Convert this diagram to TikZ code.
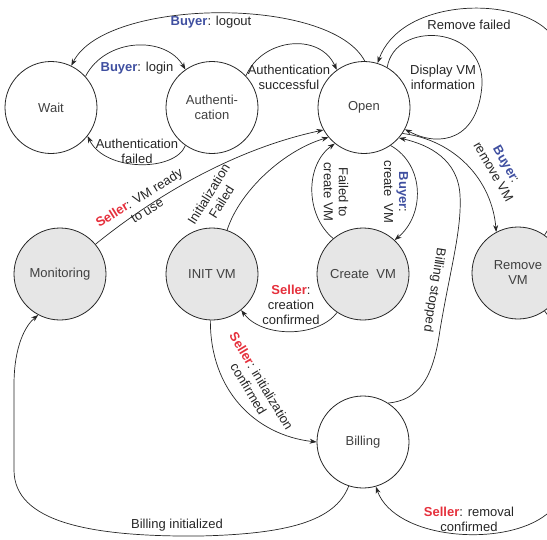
\documentclass[tikz,border=0pt]{standalone}
\usepackage{fontspec}
\setmainfont{Liberation Sans}
\usetikzlibrary{arrows.meta}
\definecolor{buyercol}{HTML}{3F4FA0}
\definecolor{sellercol}{HTML}{E5303C}
\definecolor{stfill}{HTML}{E6E6E6}
\newcommand{\BuyerTag}{\textcolor{buyercol}{\textbf{Buyer}}}
\newcommand{\SellerTag}{\textcolor{sellercol}{\textbf{Seller}}}
\begin{document}
\begin{tikzpicture}[x=1pt,y=-1pt,
  state/.style={circle, draw=black!85, line width=0.8pt, minimum size=92pt, inner sep=0pt, align=center,
    font=\fontsize{13}{15}\selectfont, text=black!75},
  active/.style={state, fill=stfill},
  lbl/.style={font=\fontsize{13}{15}\selectfont, align=center, text=black!85, inner sep=0pt},
  tr/.style={draw=black!85, line width=0.7pt, -{Stealth[length=7pt,width=5pt]}},
]
\useasboundingbox (0,0) rectangle (547,539);
\clip (0,0) rectangle (547,539);

% states
\node[state]  (wait) at (51,107.5)  {Wait};
\node[state]  (auth) at (212,107.5) {Authenti-\\cation};
\node[state]  (open) at (364,107.5) {Open};
\node[active] (mon)  at (60,274)    {Monitoring};
\node[active] (init) at (212,274)   {INIT VM};
\node[active] (create) at (363,274) {Create\ \ VM};
\node[active] (remove) at (518,273) {Remove\\VM};
\node[state]  (bill) at (363,442)   {Billing};

% transitions
\draw[tr] (open.89) .. controls (330,-5) and (105,-2) .. (wait.64);
\draw[tr] (wait.42) .. controls (105,38) and (165,35) .. (auth.125);
\draw[tr] (auth.-125) .. controls (175,172) and (105,172) .. (wait.-38);
\draw[tr] (auth.43) .. controls (262,38) and (320,32) .. (open.126);
\draw[tr] (remove.55) .. controls (575,190) and (585,70) .. (547,30)
          .. controls (510,-5) and (400,0) .. (open.73);
\draw[tr] (open.60) .. controls (395,20) and (485,25) .. (482,85)
          .. controls (478,140) and (440,148) .. (open.-28);
\draw[tr] (mon.40) .. controls (150,200) and (230,150) .. (open.209);
\draw[tr] (init.71) .. controls (240,190) and (285,150) .. (open.220);
\draw[tr] (create.130) .. controls (305,215) and (305,165) .. (open.231);
\draw[tr] (open.-55) .. controls (425,165) and (425,215) .. (create.47);
\draw[tr] (open.-34) .. controls (455,140) and (492,180) .. (remove.118);
\draw[tr] (bill.57) .. controls (418,400) and (433,380) .. (440,330)
          .. controls (450,270) and (462,230) .. (460,195)
          .. controls (458,160) and (430,145) .. (open.-41);
\draw[tr] (create.236) .. controls (318,338) and (262,338) .. (init.-51);
\draw[tr] (init.-92) .. controls (210,390) and (255,435) .. (bill.180);
\draw[tr] (bill.-108) .. controls (335,522) and (285,534) .. (200,536)
          .. controls (90,537) and (14,522) .. (14,470)
          -- (14,385) .. controls (14,345) and (26,325) .. (mon.-118);
\draw[tr] (remove.-55) .. controls (590,370) and (590,480) .. (547,514)
          .. controls (505,548) and (395,540) .. (bill.-74);

% labels
\node[lbl] (l-logout) at (211,22) {\BuyerTag: logout};
\node[lbl] (l-login) at (137,68) {\BuyerTag: login};
\node[lbl] (l-afail) at (137,151) {Authentication\\failed};
\node[lbl] (l-asucc) at (289,77) {Authentication\\successful};
\node[lbl] (l-rfail) at (469,25) {Remove failed};
\node[lbl] (l-disp) at (443,77) {Display VM\\information};
\node[lbl, rotate=32] (l-ready) at (143,204) {\SellerTag: VM ready\\to use};
\node[lbl, rotate=58] (l-ifail) at (215,198) {Initialization\\Failed};
\node[lbl, rotate=-90] (l-cfail) at (336,192) {Failed to\\create VM};
\node[lbl, rotate=-90] (l-bcreate) at (396,192) {\BuyerTag:\\create\ \ VM};
\node[lbl, rotate=-60] (l-bremove) at (500,168) {\BuyerTag:\\remove VM};
\node[lbl, rotate=-99] (l-bstop) at (434,290) {Billing stopped};
\node[lbl] (l-cconf) at (291,305) {\SellerTag:\\creation\\confirmed};
\node[lbl, rotate=-59] (l-iconf) at (255,385) {\SellerTag: initialization\\confirmed};
\node[lbl] (l-binit) at (177,525) {Billing initialized};
\node[lbl] (l-rconf) at (469,519) {\SellerTag: removal\\confirmed};
\end{tikzpicture}
\end{document}
